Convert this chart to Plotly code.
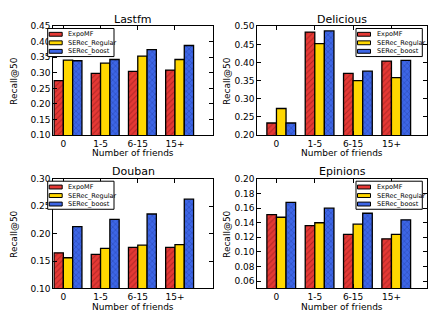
import plotly.graph_objects as go

# the page body adds an 8px margin, so the figure is drawn 16px smaller
# and every pixel position below is measured on the 436x327 reference
PAGE_W, PAGE_H, PAD = 436, 327, 8
W, H = PAGE_W - 2 * PAD, PAGE_H - 2 * PAD

categories = ["0", "1-5", "6-15", "15+"]
series_names = ["ExpoMF", "SERec_Regular", "SERec_boost"]

lastfm_expomf = [0.275, 0.298, 0.305, 0.309]
lastfm_regular = [0.341, 0.331, 0.354, 0.343]
lastfm_boost = [0.339, 0.343, 0.375, 0.388]

delicious_expomf = [0.233, 0.484, 0.370, 0.404]
delicious_regular = [0.273, 0.452, 0.350, 0.358]
delicious_boost = [0.233, 0.487, 0.376, 0.406]

douban_expomf = [0.165, 0.162, 0.175, 0.175]
douban_regular = [0.156, 0.173, 0.179, 0.180]
douban_boost = [0.213, 0.226, 0.236, 0.263]

epinions_expomf = [0.151, 0.136, 0.124, 0.118]
epinions_regular = [0.1475, 0.140, 0.138, 0.124]
epinions_boost = [0.168, 0.160, 0.153, 0.144]

lastfm_yticks = [0.10, 0.15, 0.20, 0.25, 0.30, 0.35, 0.40, 0.45]
delicious_yticks = [0.20, 0.25, 0.30, 0.35, 0.40, 0.45, 0.50]
douban_yticks = [0.10, 0.15, 0.20, 0.25, 0.30]
epinions_yticks = [0.06, 0.08, 0.10, 0.12, 0.14, 0.16, 0.18, 0.20]

colors = ["#e53935", "#ffd700", "#3d66e6"]
patterns = [
    dict(shape="/", fgcolor="#7a1414", size=4, solidity=0.25),
    dict(shape=""),
    dict(shape="x", fgcolor="#142a80", size=4, solidity=0.25),
]

BW = 0.25


def px_x(x):
    return (x - PAD) / W


def px_y(y):
    return 1 - (y - PAD) / H


# name, values, yrange, yticks, plot box in page pixels (l, t, r, b), xrange, legend side, ytitle x
panels = [
    ("Lastfm", [lastfm_expomf, lastfm_regular, lastfm_boost], [0.10, 0.45], lastfm_yticks,
     (53.3, 21.7, 213.3, 134.0), [-0.02, 4.28], "left", 13.3),
    ("Delicious", [delicious_expomf, delicious_regular, delicious_boost], [0.20, 0.50], delicious_yticks,
     (257.3, 21.7, 426.7, 134.0), [-0.25, 4.17], "right", 226.3),
    ("Douban", [douban_expomf, douban_regular, douban_boost], [0.10, 0.30], douban_yticks,
     (53.3, 179.5, 213.3, 292.5), [-0.02, 4.28], "left", 13.3),
    ("Epinions", [epinions_expomf, epinions_regular, epinions_boost], [0.05, 0.20], epinions_yticks,
     (257.3, 179.5, 426.7, 292.5), [-0.25, 4.17], "right", 226.3),
]

fig = go.Figure()
annotations = []
shapes = []
font = "DejaVu Sans"

for k, (name, vals, yr, yt, box, xr, side, ytx) in enumerate(panels):
    n = "" if k == 0 else str(k + 1)
    xa, ya = "x" + n, "y" + n
    l, t, r, b = box
    for j, v in enumerate(vals):
        fig.add_trace(go.Bar(
            x=[i + BW * (j + 0.5) for i in range(len(categories))],
            y=v, width=BW, base=0,
            xaxis=xa, yaxis=ya, showlegend=False, name=series_names[j],
            marker=dict(color=colors[j], line=dict(color="black", width=1.3),
                        pattern=patterns[j]),
        ))
    common = dict(showline=True, linecolor="black", linewidth=1, mirror="ticks",
                  ticks="inside", ticklen=4, tickcolor="black", showgrid=False,
                  zeroline=False, tickfont=dict(family=font, size=9, color="black"))
    fig.layout["xaxis" + n] = dict(
        domain=[px_x(l), px_x(r)], range=xr, anchor=ya,
        tickvals=[i + BW for i in range(len(categories))], ticktext=categories, **common)
    fig.layout["yaxis" + n] = dict(
        domain=[px_y(b), px_y(t)], range=yr, anchor=xa,
        tickvals=yt, tickformat=".2f", **common)

    cx = (l + r) / 2
    annotations.append(dict(text=name, x=px_x(cx), y=px_y(t - 7.5), xref="paper", yref="paper",
                            showarrow=False, xanchor="center", yanchor="middle",
                            font=dict(family=font, size=11, color="black")))
    annotations.append(dict(text="Number of friends", x=px_x(cx), y=px_y(b + 19), xref="paper",
                            yref="paper", showarrow=False, xanchor="center", yanchor="middle",
                            font=dict(family=font, size=9, color="black")))
    annotations.append(dict(text="Recall@50", x=px_x(ytx), y=px_y((t + b) / 2), xref="paper",
                            yref="paper", showarrow=False, textangle=-90, xanchor="center",
                            yanchor="middle", font=dict(family=font, size=9, color="black")))

    # legend box, drawn by hand so the rows can be as tight as the original
    lx0 = l - 5.6 if side == "left" else r - 70.7
    ly0 = t + 2.3
    shapes.append(dict(type="rect", xref="paper", yref="paper",
                       x0=px_x(lx0), x1=px_x(lx0 + 66.3), y0=px_y(ly0), y1=px_y(ly0 + 29),
                       fillcolor="white", line=dict(color="black", width=1)))
    for j, s in enumerate(series_names):
        ry = ly0 + 6 + 8.8 * j
        shapes.append(dict(type="rect", xref="paper", yref="paper",
                           x0=px_x(lx0 + 1.5), x1=px_x(lx0 + 14.5), y0=px_y(ry - 2), y1=px_y(ry + 2),
                           fillcolor=colors[j], line=dict(color="black", width=1)))
        annotations.append(dict(text=s, x=px_x(lx0 + 18.5), y=px_y(ry), xref="paper", yref="paper",
                                showarrow=False, xanchor="left", yanchor="middle",
                                font=dict(family=font, size=6.5, color="black")))

fig.update_layout(
    width=W, height=H, margin=dict(l=0, r=0, t=0, b=0),
    paper_bgcolor="white", plot_bgcolor="white",
    barmode="overlay", showlegend=False,
    annotations=annotations, shapes=shapes,
)

fig.write_html("out.html")
